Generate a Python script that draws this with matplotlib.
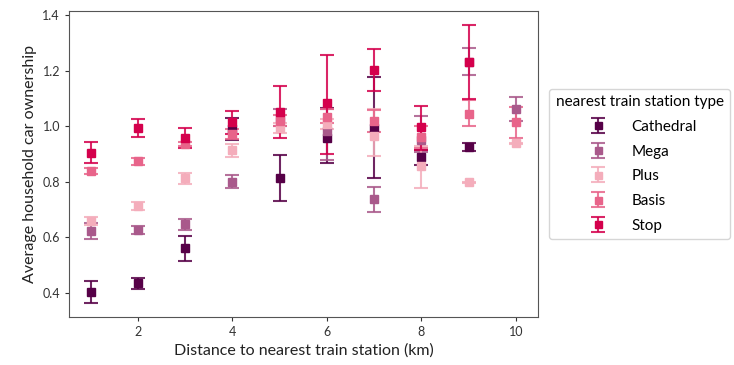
import matplotlib
matplotlib.use("Agg")
import matplotlib.pyplot as plt
import numpy as np
from matplotlib.colors import to_rgba

plt.rcParams['font.family'] = ['Lato', 'DejaVu Sans']

series_names = ["Cathedral", "Mega", "Plus", "Basis", "Stop"]
colors = ["#560047", "#a9598b", "#f4adbb", "#e8648a", "#d4004c"]

x_cathedral = [1, 2, 3, 4, 5, 6, 7, 8, 9]
y_cathedral = [0.405, 0.435, 0.561, 0.99, 0.813, 0.959, 0.993, 0.89, 0.925]
lo_cathedral = [0.365, 0.414, 0.516, 0.950, 0.732, 0.869, 0.813, 0.862, 0.912]
hi_cathedral = [0.444, 0.455, 0.605, 1.028, 0.897, 1.067, 1.176, 0.913, 0.938]

x_mega = [1, 2, 3, 4, 5, 6, 7, 8, 9, 10]
y_mega = [0.623, 0.627, 0.647, 0.800, 1.03, 0.983, 0.737, 0.950, 1.232, 1.061]
lo_mega = [0.593, 0.611, 0.627, 0.779, 1.0, 0.88, 0.692, 0.906, 1.184, 1.02]
hi_mega = [0.652, 0.642, 0.667, 0.824, 1.06, 1.06, 0.782, 1.037, 1.28, 1.104]

x_plus = [1, 2, 3, 4, 5, 6, 7, 8, 9, 10]
y_plus = [0.660, 0.712, 0.813, 0.914, 0.993, 1.008, 0.965, 0.858, 0.798, 0.938]
lo_plus = [0.645, 0.697, 0.793, 0.889, 0.975, 0.99, 0.894, 0.777, 0.795, 0.935]
hi_plus = [0.675, 0.727, 0.831, 0.936, 1.01, 1.025, 1.06, 0.93, 0.80, 0.94]

x_basis = [1, 2, 3, 4, 5, 6, 7, 8, 9, 10]
y_basis = [0.839, 0.875, 0.936, 0.971, 1.020, 1.034, 1.020, 0.96, 1.044, 1.015]
lo_basis = [0.828, 0.862, 0.928, 0.953, 1.0, 1.01, 0.98, 0.92, 1.001, 0.959]
hi_basis = [0.850, 0.887, 0.944, 0.989, 1.04, 1.06, 1.059, 1.0, 1.094, 1.069]

x_stop = [1, 2, 3, 4, 5, 6, 7, 8, 9]
y_stop = [0.902, 0.995, 0.959, 1.014, 1.050, 1.082, 1.201, 0.996, 1.232]
lo_stop = [0.868, 0.960, 0.923, 0.971, 0.956, 0.899, 1.127, 0.914, 1.098]
hi_stop = [0.942, 1.025, 0.995, 1.055, 1.145, 1.256, 1.277, 1.074, 1.362]

data = [
    (x_cathedral, y_cathedral, lo_cathedral, hi_cathedral),
    (x_mega, y_mega, lo_mega, hi_mega),
    (x_plus, y_plus, lo_plus, hi_plus),
    (x_basis, y_basis, lo_basis, hi_basis),
    (x_stop, y_stop, lo_stop, hi_stop),
]

fig = plt.figure(figsize=(7.34, 3.65), dpi=100)
ax = fig.add_axes([69/734, 1-316.7/365, (538-69)/734, (316.7-11)/365])

for name, col, (x, y, lo, hi) in zip(series_names, colors, data):
    y = np.array(y); lo = np.array(lo); hi = np.array(hi)
    err = np.vstack([y - lo, hi - y])
    ax.errorbar(x, y, yerr=err, fmt='s', color=col, ecolor=to_rgba(col, 0.85),
                markersize=6.3, capsize=5, elinewidth=1.5, capthick=1.5, label=name)

ax.set_xlim(0.54, 10.47)
ax.set_ylim(0.315, 1.414)
ax.set_xticks([2, 4, 6, 8, 10])
ax.set_yticks([0.4, 0.6, 0.8, 1.0, 1.2, 1.4])
ax.tick_params(labelsize=9, colors='#333333', length=3)
for s in ax.spines.values():
    s.set_color('#555555')
ax.set_xlabel("Distance to nearest train station (km)", fontsize=11.5, color='#222222')
ax.set_ylabel("Average household car ownership", fontsize=11.5, color='#222222')

leg = ax.legend(title="nearest train station type", loc='center left',
                bbox_to_anchor=(1.008, 0.5), fontsize=11, title_fontsize=11,
                frameon=True, handletextpad=1.2, markerscale=0.8,
                labelspacing=0.7, borderpad=0.4)
leg.get_frame().set_edgecolor('#cccccc')

fig.savefig("out.png", dpi=100)
